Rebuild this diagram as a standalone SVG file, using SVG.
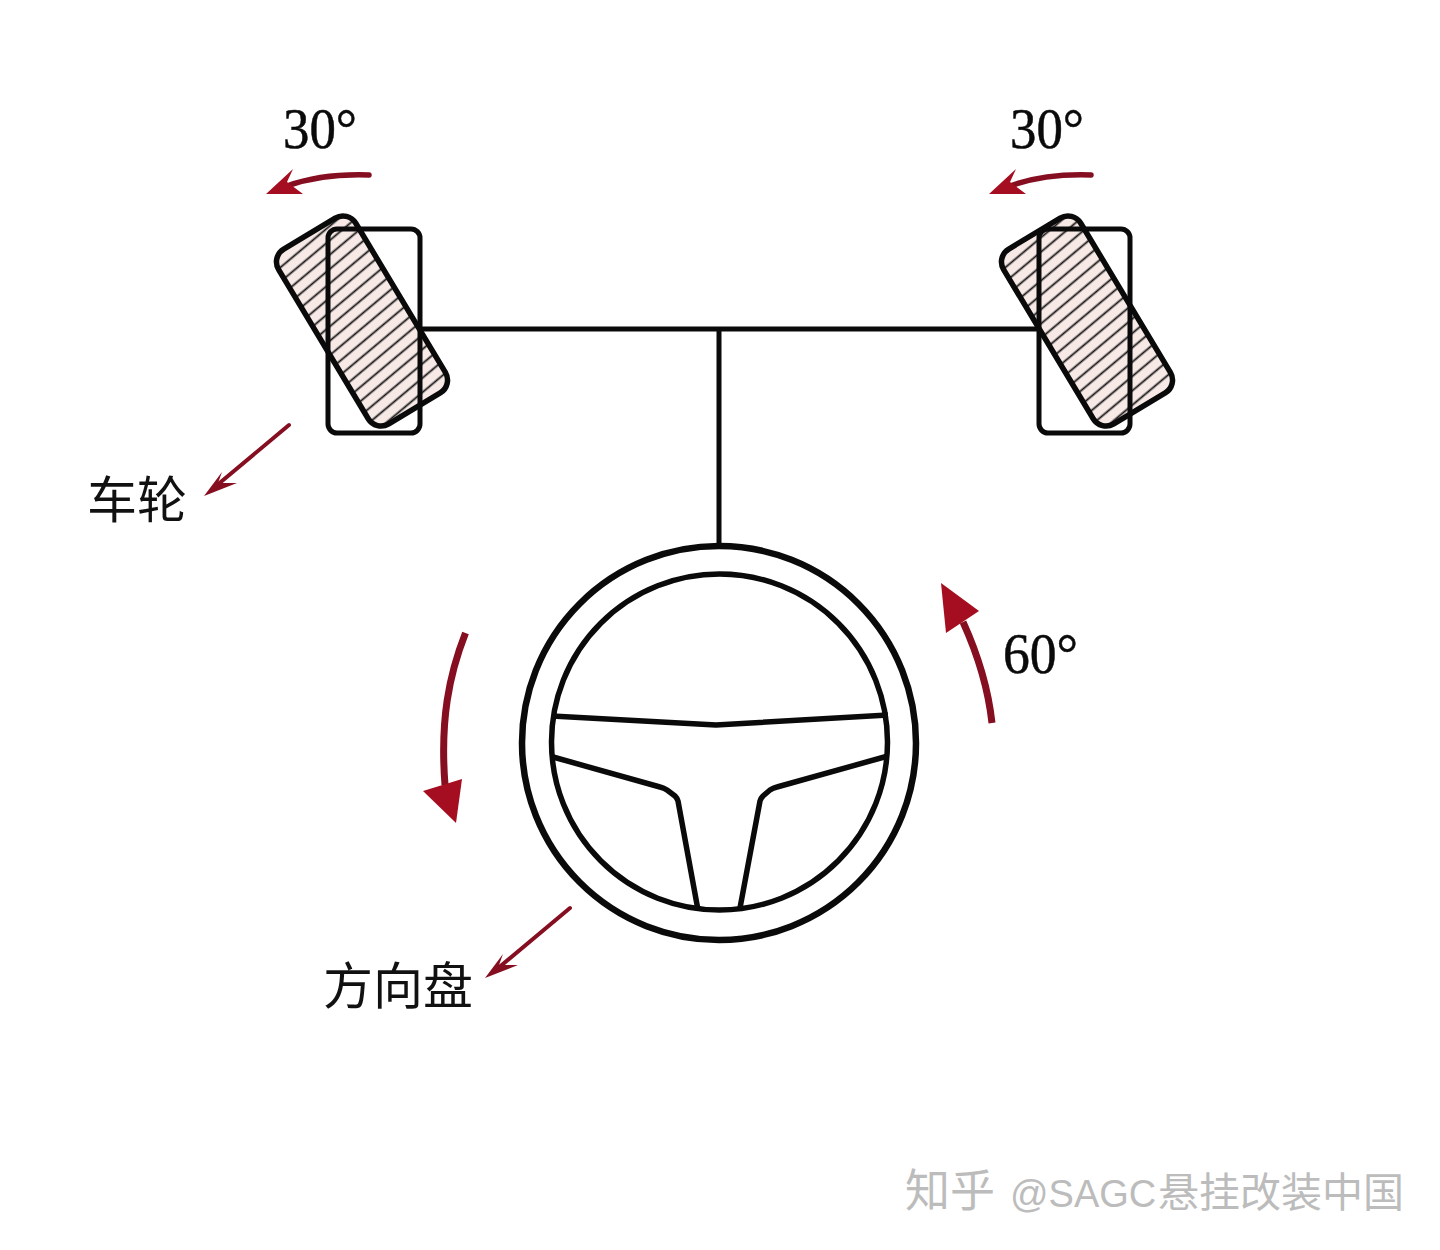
<svg xmlns="http://www.w3.org/2000/svg" width="1440" height="1250" viewBox="0 0 1440 1250">
<style>
.ln{fill:none;stroke:#0a0a0a;stroke-width:5;stroke-linejoin:round}
.sp{fill:none;stroke:#0a0a0a;stroke-width:5.5;stroke-linejoin:round}
.box{fill:none;stroke:#0a0a0a;stroke-width:5}
.tyre{fill:url(#hatch);stroke:#0a0a0a;stroke-width:5.5}
.shaft{fill:none;stroke:#850e20;stroke-linecap:round}
.butt{stroke-linecap:butt}
.head{fill:#a50e20}
.thin{fill:#850e20}
.deg{font-family:"Liberation Serif",serif;font-size:56px;fill:#0a0a0a;stroke:#0a0a0a;stroke-width:.5}
.cn{font-family:"Noto Sans CJK SC",sans-serif;font-size:50px;font-weight:400;fill:#111}
.wm{font-family:"Noto Sans CJK SC",sans-serif;font-size:41px;fill:#bcbcbc}
.wz{font-family:"Noto Sans CJK SC",sans-serif;font-size:45px;fill:#bcbcbc}
.wl{font-family:"Liberation Sans",sans-serif;font-size:38px;fill:#bcbcbc}
</style>
<defs>
<pattern id="hatch" patternUnits="userSpaceOnUse" width="20" height="11" patternTransform="rotate(-9)">
<rect width="20" height="11" fill="#f6e9e6"/>
<line x1="0" y1="5.500" x2="20" y2="5.500" stroke="#151515" stroke-width="1.8"/>
</pattern>
</defs>
<rect width="1440" height="1250" fill="#fff"/>
<g id="connectors">
<path class="ln" d="M420 329H1038"/>
<path class="ln" d="M719 329V545"/>
</g>
<g id="wheel-left">
<rect class="tyre" x="-45" y="-102" width="90" height="204" rx="15" transform="translate(362 321) rotate(-31)"/>
<rect class="box" x="328" y="229" width="92" height="204" rx="9"/>
</g>
<g id="wheel-right">
<rect class="tyre" x="-45" y="-102" width="90" height="204" rx="15" transform="translate(1087 321) rotate(-31)"/>
<rect class="box" x="1039" y="229" width="91" height="204" rx="9"/>
</g>
<g id="steering-wheel">
<circle cx="719" cy="743" r="197" fill="none" stroke="#0a0a0a" stroke-width="6.5"/>
<circle cx="719.500" cy="742" r="168" fill="none" stroke="#0a0a0a" stroke-width="5.500"/>
<path class="sp" d="M552 716L716 725L888 715"/>
<path class="sp" d="M553 757L660 787Q664 788 667 790L675 796Q677 798 678 801L698 910"/>
<path class="sp" d="M888 756L777 787Q773 788 770 790L763 796Q761 798 760 801L740 908"/>
</g>
<g id="arrow-left-wheel">
<path class="shaft" stroke-width="5.5" d="M369 175C340 174 312 177 287 186"/>
<path class="head" d="M266 194L293 169L287 182L303 194Z"/>
</g>
<g id="arrow-right-wheel">
<path class="shaft" stroke-width="5.5" d="M1091 175C1062 174 1035 177 1010 186"/>
<path class="head" d="M989 194L1016 169L1010 182L1026 194Z"/>
</g>
<g id="arrow-wheel-label">
<path class="shaft" stroke-width="4" d="M289 425L216 486"/>
<path class="thin" d="M204 496L222 472L218 483L237 483Z"/>
</g>
<g id="arrow-steering-label">
<path class="shaft" stroke-width="4" d="M570 908L497 969"/>
<path class="thin" d="M485 978L503 954L499 965L518 965Z"/>
</g>
<g id="arrow-steering-left">
<path class="shaft butt" stroke-width="7" d="M465.500 633C449 675 440 720 445 785"/>
<path class="head" d="M423 791L462 779L456 823Z"/>
</g>
<g id="arrow-steering-right">
<path class="shaft butt" stroke-width="7" d="M992 723C988 687 978 655 963 622"/>
<path class="head" d="M941 583L979 611L946 633Z"/>
</g>
<g id="labels">
<text class="deg" x="283" y="148" textLength="74" lengthAdjust="spacingAndGlyphs">30°</text>
<text class="deg" x="1010" y="148" textLength="74" lengthAdjust="spacingAndGlyphs">30°</text>
<text class="deg" x="1003" y="673" textLength="75" lengthAdjust="spacingAndGlyphs">60°</text>
<text class="cn" x="87" y="518">车轮</text>
<text class="cn" x="323" y="1004">方向盘</text>
<text x="905" y="1207"><tspan class="wz">知乎</tspan><tspan class="wl" x="1010">@SAGC</tspan><tspan class="wm" x="1158">悬挂改装中国</tspan></text>
</g>
</svg>
